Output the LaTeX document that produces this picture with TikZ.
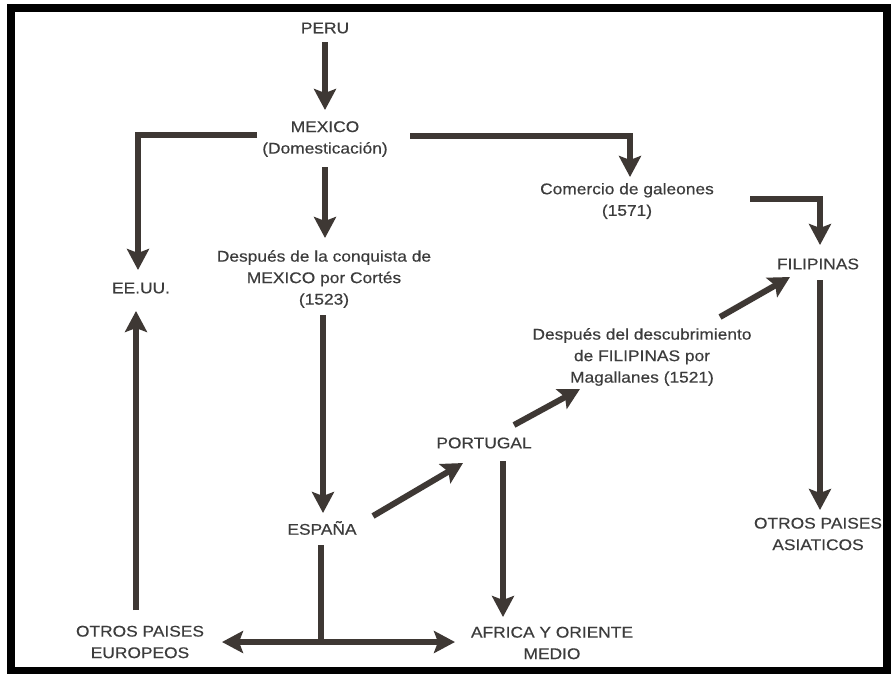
\documentclass[tikz,border=0pt]{standalone}
\usepackage{fontspec}
\setmainfont{Liberation Sans}[FakeStretch=1.12,FakeBold=0.4]
\usetikzlibrary{arrows.meta}
\definecolor{ink}{HTML}{3E3834}
\definecolor{txt}{HTML}{3C3C3C}
\begin{document}
\begin{tikzpicture}[x=1pt,y=-1pt,
  lbl/.style={text=txt, align=center, inner sep=0pt, font=\fontsize{15.5}{21.5}\selectfont},
  link/.style={draw=ink, line width=6pt},
  arr/.style={link, -{Stealth[length=21pt,width=22pt,inset=4pt]}},
  frame/.style={draw=black, line width=8pt}]
\useasboundingbox (0,0) rectangle (891,673);
\fill[white] (0,0) rectangle (891,673);
\draw[frame] (11,8) rectangle (887,671);

\node[lbl] (peru) at (325,28) {PERU};
\node[lbl] (mexico) at (325,139) {MEXICO\\(Domesticación)};
\node[lbl] (despues1) at (324,279) {Después de la conquista de\\MEXICO por Cortés\\(1523)};
\node[lbl] (eeuu) at (141,288) {EE.UU.};
\node[lbl] (comercio) at (627,201) {Comercio de galeones\\(1571)};
\node[lbl] (filipinas) at (818,264) {FILIPINAS};
\node[lbl] (descub) at (642,357) {Después del descubrimiento\\de FILIPINAS por\\Magallanes (1521)};
\node[lbl] (portugal) at (484,443) {PORTUGAL};
\node[lbl] (espana) at (322,528) {ESPAÑA};
\node[lbl] (otrosasia) at (818,534) {OTROS PAISES\\ASIATICOS};
\node[lbl] (otroseuro) at (140,642) {OTROS PAISES\\EUROPEOS};
\node[lbl] (africa) at (552,643) {AFRICA Y ORIENTE\\MEDIO};

\coordinate (split) at ([shift={(-1,114)}]espana.center);

\draw[arr] ([shift={(0,14)}]peru.center) -- ([shift={(0,-29)}]mexico.center);
\draw[arr] ([shift={(0,28)}]mexico.center) -- ([shift={(1,-41)}]despues1.center);
\draw[arr] ([shift={(-68,-4)}]mexico.center) -| ([shift={(-3,-18)}]eeuu.center);
\draw[arr] ([shift={(85,-3)}]mexico.center) -| ([shift={(3,-24)}]comercio.center);
\draw[arr] ([shift={(123,-2)}]comercio.center) -| ([shift={(2,-19)}]filipinas.center);
\draw[arr] ([shift={(2,16)}]filipinas.center) -- ([shift={(2,-24)}]otrosasia.center);
\draw[arr] ([shift={(-1,36)}]despues1.center) -- ([shift={(1,-15)}]espana.center);
\draw[arr] ([shift={(51,-12)}]espana.center) -- ([shift={(-21,20)}]portugal.center);
\draw[arr] ([shift={(30,-18)}]portugal.center) -- ([shift={(-62,32)}]descub.center);
\draw[arr] ([shift={(78,-40)}]descub.center) -- ([shift={(-28,13)}]filipinas.center);
\draw[arr] ([shift={(19,18)}]portugal.center) -- ([shift={(-49,-26)}]africa.center);
\draw[link] ([shift={(-1,17)}]espana.center) -- ([shift={(0,3)}]split);
\draw[arr] ([shift={(3,0)}]split) -- ([shift={(82,0)}]otroseuro.center);
\draw[arr] ([shift={(-3,0)}]split) -- ([shift={(-97,-1)}]africa.center);
\draw[arr] ([shift={(-4,-32)}]otroseuro.center) -- ([shift={(-5,23)}]eeuu.center);
\end{tikzpicture}
\end{document}
